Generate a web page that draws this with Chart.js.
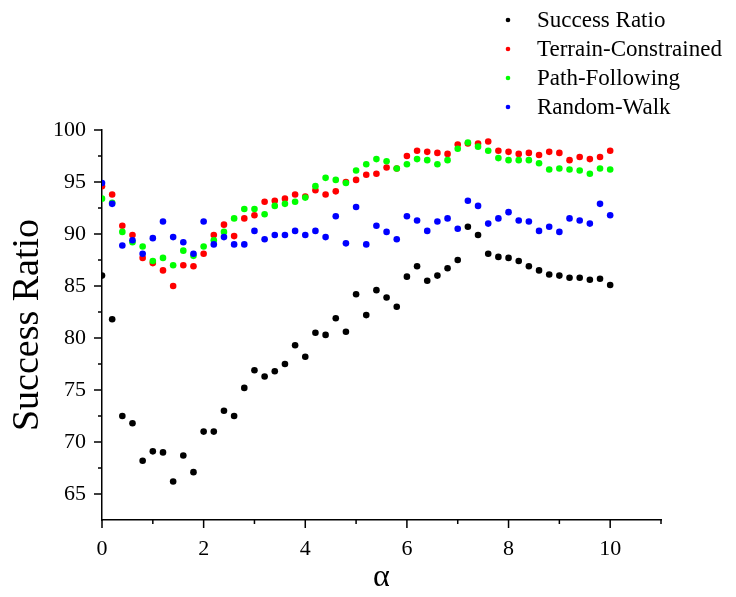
<!DOCTYPE html>
<html>
<head>
<meta charset="utf-8">
<script src="https://cdn.jsdelivr.net/npm/chart.js@4/dist/chart.umd.min.js"></script>
<style>
  html, body { margin: 0; padding: 0; background: #fff; }
  #wrap { width: 736px; height: 597px; }
</style>
</head>
<body>
<div id="wrap"><canvas id="chart"></canvas></div>
<script>
var alpha = [0, 0.2, 0.4, 0.6, 0.8, 1, 1.2, 1.4, 1.6, 1.8, 2, 2.2, 2.4, 2.6, 2.8, 3, 3.2, 3.4, 3.6, 3.8,
  4, 4.2, 4.4, 4.6, 4.8, 5, 5.2, 5.4, 5.6, 5.8, 6, 6.2, 6.4, 6.6, 6.8, 7, 7.2, 7.4, 7.6, 7.8,
  8, 8.2, 8.4, 8.6, 8.8, 9, 9.2, 9.4, 9.6, 9.8, 10];

var successRatio = [86.0, 81.8, 72.5, 71.8, 68.2, 69.1, 69.0, 66.2, 68.7, 67.1, 71.0, 71.0, 73.0, 72.5, 75.2, 76.9, 76.3, 76.8, 77.5, 79.3,
  78.2, 80.5, 80.3, 81.9, 80.6, 84.2, 82.2, 84.6, 83.9, 83.0, 85.9, 86.9, 85.5, 86.0, 86.7, 87.5, 90.7, 89.9, 88.1, 87.8,
  87.7, 87.4, 86.9, 86.5, 86.1, 86.0, 85.8, 85.8, 85.6, 85.7, 85.1];

var terrain = [94.6, 93.8, 90.8, 89.9, 87.7, 87.2, 86.5, 85.0, 87.0, 86.9, 88.1, 89.9, 90.9, 89.8, 91.5, 91.8, 93.1, 93.2, 93.4, 93.8,
  93.6, 94.2, 93.8, 94.1, 95.0, 95.2, 95.7, 95.8, 96.4, 96.3, 97.5, 98.0, 97.9, 97.8, 97.7, 98.6, 98.7, 98.7, 98.9, 98.0,
  97.9, 97.7, 97.8, 97.6, 97.9, 97.8, 97.1, 97.4, 97.2, 97.4, 98.0];

var pathFollowing = [93.4, 93.0, 90.2, 89.2, 88.8, 87.4, 87.7, 87.0, 88.4, 87.9, 88.8, 89.4, 90.2, 91.5, 92.4, 92.4, 91.9, 92.7, 92.9, 93.1,
  93.5, 94.6, 95.4, 95.2, 94.9, 96.1, 96.7, 97.2, 97.0, 96.3, 96.7, 97.2, 97.1, 96.7, 97.1, 98.2, 98.8, 98.4, 98.0, 97.3,
  97.1, 97.1, 97.1, 96.8, 96.2, 96.3, 96.2, 96.1, 95.8, 96.3, 96.2];

var randomWalk = [94.9, 92.9, 88.9, 89.4, 88.1, 89.6, 91.2, 89.7, 89.2, 88.1, 91.2, 89.0, 89.7, 89.0, 89.0, 90.3, 89.5, 89.9, 89.9, 90.3,
  89.9, 90.3, 89.7, 91.7, 89.1, 92.6, 89.0, 90.8, 90.2, 89.5, 91.7, 91.3, 90.3, 91.2, 91.5, 90.5, 93.2, 92.7, 91.0, 91.5,
  92.1, 91.3, 91.2, 90.3, 90.7, 90.2, 91.5, 91.3, 91.0, 92.9, 91.8];

var xTicks = [0, 2, 4, 6, 8, 10];
var yTicks = [65, 70, 75, 80, 85, 90, 95, 100];

function pts(ys) {
  return alpha.map(function (a, i) { return { x: a, y: ys[i] }; });
}

var serif = "'Liberation Serif', 'Times New Roman', serif";

// legend in the top right corner, stacked vertically
var legendPlugin = {
  id: "cornerLegend",
  afterDraw: function (chart) {
    var ctx = chart.ctx;
    ctx.save();
    ctx.font = "23px " + serif;
    ctx.textBaseline = "middle";
    chart.data.datasets.forEach(function (ds, i) {
      var y = 20 + i * 29;
      ctx.beginPath();
      ctx.arc(508, y, 2.3, 0, Math.PI * 2);
      ctx.fillStyle = ds.backgroundColor;
      ctx.fill();
      ctx.fillStyle = "#000";
      ctx.fillText(ds.label, 537, y + 1);
    });
    ctx.restore();
  }
};

// outward major / minor tick marks
var tickPlugin = {
  id: "tickMarks",
  afterDraw: function (chart) {
    var ctx = chart.ctx;
    var xs = chart.scales.x, ys = chart.scales.y;
    var area = chart.chartArea;
    ctx.save();
    ctx.strokeStyle = "#000";
    ctx.lineWidth = 1.5;
    ctx.beginPath();
    for (var v = 0; v <= 11; v += 1) {
      var px = xs.getPixelForValue(v);
      var len = v % 2 === 0 ? 8 : 4;
      ctx.moveTo(px, area.bottom);
      ctx.lineTo(px, area.bottom + len);
    }
    for (var w = 65; w <= 100; w += 2.5) {
      var py = ys.getPixelForValue(w);
      var l = w % 5 === 0 ? 8 : 4;
      ctx.moveTo(area.left, py);
      ctx.lineTo(area.left - l, py);
    }
    ctx.stroke();
    ctx.restore();
  }
};

new Chart(document.getElementById("chart").getContext("2d"), {
  type: "scatter",
  data: {
    datasets: [
      { label: "Success Ratio", data: pts(successRatio), backgroundColor: "#000000", borderColor: "#000000", order: 4 },
      { label: "Terrain-Constrained", data: pts(terrain), backgroundColor: "#ff0000", borderColor: "#ff0000", order: 3 },
      { label: "Path-Following", data: pts(pathFollowing), backgroundColor: "#00ff00", borderColor: "#00ff00", order: 2 },
      { label: "Random-Walk", data: pts(randomWalk), backgroundColor: "#0000ff", borderColor: "#0000ff", order: 1 }
    ]
  },
  options: {
    responsive: true,
    maintainAspectRatio: false,
    animation: false,
    events: [],
    elements: { point: { radius: 3.3, borderWidth: 0 } },
    layout: { padding: { top: 130, right: 75, left: 0, bottom: 0 } },
    plugins: { legend: { display: false }, tooltip: { enabled: false } },
    scales: {
      x: {
        type: "linear",
        min: 0,
        max: 11,
        afterBuildTicks: function (s) { s.ticks = xTicks.map(function (v) { return { value: v }; }); },
        afterFit: function (s) { s.height = 77; },
        grid: { display: false, drawTicks: false },
        border: { display: true, color: "#000", width: 1.5 },
        ticks: { color: "#000", padding: 16, maxRotation: 0, font: { family: serif, size: 22 } },
        title: { display: true, text: "α", color: "#000", padding: 0, font: { family: serif, size: 32 } }
      },
      y: {
        type: "linear",
        min: 62.5,
        max: 100,
        afterBuildTicks: function (s) { s.ticks = yTicks.map(function (v) { return { value: v }; }); },
        afterFit: function (s) { s.width = 102; },
        grid: { display: false, drawTicks: false },
        border: { display: true, color: "#000", width: 1.5 },
        ticks: { color: "#000", padding: 16, font: { family: serif, size: 22 } },
        title: { display: true, text: "Success Ratio", color: "#000", padding: { top: 5, bottom: 0 }, font: { family: serif, size: 38 } }
      }
    }
  },
  plugins: [legendPlugin, tickPlugin]
});
</script>
</body>
</html>
